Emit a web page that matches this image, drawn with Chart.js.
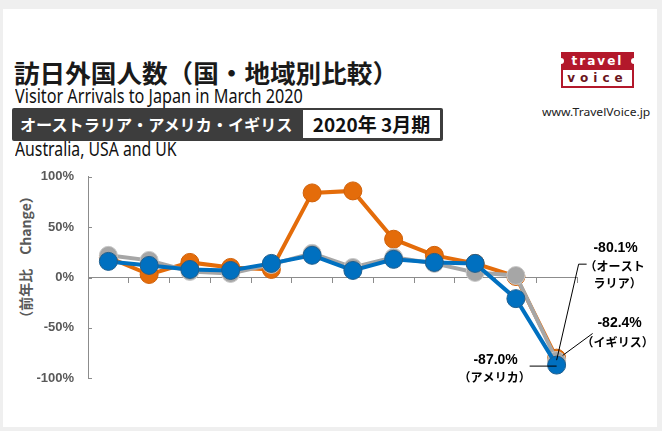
<!DOCTYPE html>
<html>
<head>
<meta charset="utf-8">
<script src="https://cdn.jsdelivr.net/npm/chart.js@4.4.0/dist/chart.umd.min.js"></script>
<style>
  body { margin: 0; width: 662px; height: 431px; overflow: hidden; position: relative; background: #efefef; font-family: 'Noto Sans CJK JP', 'Noto Sans', sans-serif; }
  #panel { position: absolute; left: 3px; top: 9px; width: 654px; height: 418px; background: #fff; }
  .t { position: absolute; white-space: nowrap; transform-origin: left center; }
  #title { left: 14px; top: 56px; font-size: 25px; line-height: 32px; font-weight: bold; color: #1a1a1a; }
  #sub { left: 15px; top: 85px; font-size: 19px; line-height: 22px; color: #111; font-family: 'Noto Sans', sans-serif; }
  #bar { position: absolute; left: 12px; top: 108px; width: 431px; height: 33px; background: #3d3d3d; border-radius: 2px; }
  #barText { left: 20px; top: 111px; font-size: 16px; line-height: 26px; font-weight: bold; color: #fff; }
  #period { position: absolute; left: 303px; top: 110px; width: 137px; height: 28px; background: #fff; font-size: 19px; line-height: 28px; font-weight: bold; color: #111; text-align: center; }
  #countries { left: 15px; top: 138px; font-size: 19px; line-height: 22px; color: #111; font-family: 'Noto Sans', sans-serif; }
  #logo { position: absolute; left: 561px; top: 52px; width: 73px; height: 37px; }
  #logoTop { position: absolute; left: 0; top: 0; width: 73px; height: 18px; background: #b3182b; color: #fff; font: bold 12px/18px 'DejaVu Sans', sans-serif; letter-spacing: 2px; text-align: center; }
  #logoBot { position: absolute; left: 0; top: 18px; width: 69px; height: 16px; border: 2px solid #b3182b; border-top: none; background: #fff; color: #6b1520; font: bold 12px/16px 'DejaVu Sans', sans-serif; letter-spacing: 5px; text-align: center; }
  .notch { position: absolute; top: 6px; width: 6px; height: 6px; border-radius: 3px; background: #fff; }
  #www { left: 542px; top: 104px; font-size: 11px; line-height: 16px; color: #222; font-family: 'Noto Sans', sans-serif; }
  #ytitle { position: absolute; left: 25px; top: 257px; transform: translate(-50%, -50%) rotate(-90deg); font-size: 14px; font-weight: bold; color: #595959; white-space: nowrap; }
  #chart { position: absolute; left: 0; top: 155px; }
</style>
</head>
<body>
<div id="panel"></div>
<div class="t" id="title">訪日外国人数（国・地域別比較）</div>
<div class="t" id="sub">Visitor Arrivals to Japan in March 2020</div>
<div id="bar"></div>
<div class="t" id="barText">オーストラリア・アメリカ・イギリス</div>
<div id="period">2020年 3月期</div>
<div class="t" id="countries">Australia, USA and UK</div>
<div id="logo">
  <div id="logoTop">travel</div>
  <div class="notch" style="left:-3px"></div>
  <div class="notch" style="left:70px"></div>
  <div id="logoBot">voice</div>
</div>
<div class="t" id="www">www.TravelVoice.jp</div>
<div id="ytitle">（前年比　Change）</div>
<canvas id="chart" width="662" height="245"></canvas>
<script>
// 2019年4月〜2020年3月 の前年同月比（%）
const months = ['2019年4月', '5月', '6月', '7月', '8月', '9月', '10月', '11月', '12月', '2020年1月', '2月', '3月'];
const australia = [20, 3, 15, 10, 8, 84, 86, 38, 22, 14, 1, -80.1];
const uk = [22, 17, 6, 4, 13, 24, 10, 20, 14, 5, 2, -82.4];
const usa = [16, 12, 8, 7, 14, 22, 7, 18, 15, 14, -21, -87.0];
const yTicks = [-100, -50, 0, 50, 100];

// squeeze latin/heading text to the reference widths
function fitWidth(id, target) {
  const el = document.getElementById(id);
  el.style.transform = 'scaleX(' + (target / el.scrollWidth) + ')';
}
fitWidth('title', 384);
fitWidth('sub', 288);
fitWidth('barText', 272);
fitWidth('countries', 162);
fitWidth('www', 108);

const axisColor = '#8c8c8c';

// small inward tick marks on the y axis
const yTickMarks = {
  id: 'yTickMarks',
  beforeDatasetsDraw(chart) {
    const ctx = chart.ctx, y = chart.scales.y;
    ctx.save();
    ctx.strokeStyle = axisColor;
    ctx.lineWidth = 1;
    ctx.beginPath();
    yTicks.forEach(v => {
      const py = Math.round(y.getPixelForValue(v)) + 0.5;
      ctx.moveTo(y.right, py);
      ctx.lineTo(y.right + 4, py);
    });
    ctx.stroke();
    ctx.restore();
  }
};

// callouts for the March 2020 values
const calloutPlugin = {
  id: 'callouts',
  afterDatasetsDraw(chart) {
    const ctx = chart.ctx;
    const last = months.length - 1;
    const pt = i => chart.getDatasetMeta(i).data[last];
    const us = pt(0), gb = pt(1), au = pt(2);
    ctx.save();
    ctx.strokeStyle = '#000';
    ctx.lineWidth = 1;
    ctx.beginPath();
    ctx.moveTo(au.x, au.y + 2); ctx.lineTo(au.x + 22, au.y - 94); ctx.lineTo(au.x + 30, au.y - 94);
    ctx.moveTo(gb.x + 6, gb.y - 5); ctx.lineTo(gb.x + 36, gb.y - 27);
    ctx.moveTo(us.x - 27, us.y + 1); ctx.lineTo(us.x, us.y + 1);
    ctx.stroke();

    ctx.fillStyle = '#000';
    ctx.textAlign = 'center';
    ctx.textBaseline = 'middle';
    const num = "bold 14px 'Liberation Sans', sans-serif";
    const jp = "bold 12px 'Noto Sans CJK JP', sans-serif";
    ctx.font = num;
    ctx.fillText(australia[last].toFixed(1) + '%', au.x + 59, au.y - 110);
    ctx.fillText(uk[last].toFixed(1) + '%', gb.x + 63, gb.y - 37);
    ctx.fillText(usa[last].toFixed(1) + '%', us.x - 61, us.y - 5);
    ctx.font = jp;
    ctx.fillText('（オースト', au.x + 58, au.y - 92);
    ctx.fillText('ラリア）', au.x + 61, au.y - 75);
    ctx.fillText('（イギリス）', gb.x + 61, gb.y - 18);
    ctx.fillText('（アメリカ）', us.x - 62, us.y + 12);
    ctx.restore();
  }
};

function series(label, data, color, edge) {
  return {
    label: label,
    data: data,
    borderColor: color,
    backgroundColor: color,
    borderWidth: 4,
    pointRadius: 9,
    pointBorderWidth: 1,
    pointBorderColor: edge,
    pointBackgroundColor: color,
    tension: 0
  };
}

new Chart(document.getElementById('chart').getContext('2d'), {
  type: 'line',
  data: {
    labels: months,
    datasets: [
      series('アメリカ', usa, '#0070c0', '#1f5f8f'),
      series('イギリス', uk, '#a6a6a6', '#c8c8c8'),
      series('オーストラリア', australia, '#e46c0a', '#d06008')
    ]
  },
  options: {
    responsive: false,
    animation: false,
    layout: { padding: { top: 11, bottom: 17, left: 0, right: 85 } },
    plugins: { legend: { display: false }, tooltip: { enabled: false } },
    scales: {
      x: {
        type: 'category',
        position: { y: 0 },
        offset: true,
        grid: {
          offset: true,
          drawOnChartArea: false,
          tickLength: 5,
          color: c => (c.index === 0 || c.index === months.length) ? 'rgba(0,0,0,0)' : axisColor
        },
        border: { color: axisColor, width: 1 },
        ticks: { display: false }
      },
      y: {
        min: yTicks[0],
        max: yTicks[yTicks.length - 1],
        afterBuildTicks: s => { s.ticks = yTicks.map(v => ({ value: v })); },
        afterFit: s => { s.width = 88; },
        grid: { drawOnChartArea: false, drawTicks: false },
        border: { color: axisColor, width: 1 },
        ticks: {
          padding: 14,
          color: '#595959',
          font: { family: 'Liberation Sans', size: 13, weight: 'bold' },
          callback: v => v + '%'
        }
      }
    }
  },
  plugins: [yTickMarks, calloutPlugin]
});
</script>
</body>
</html>
